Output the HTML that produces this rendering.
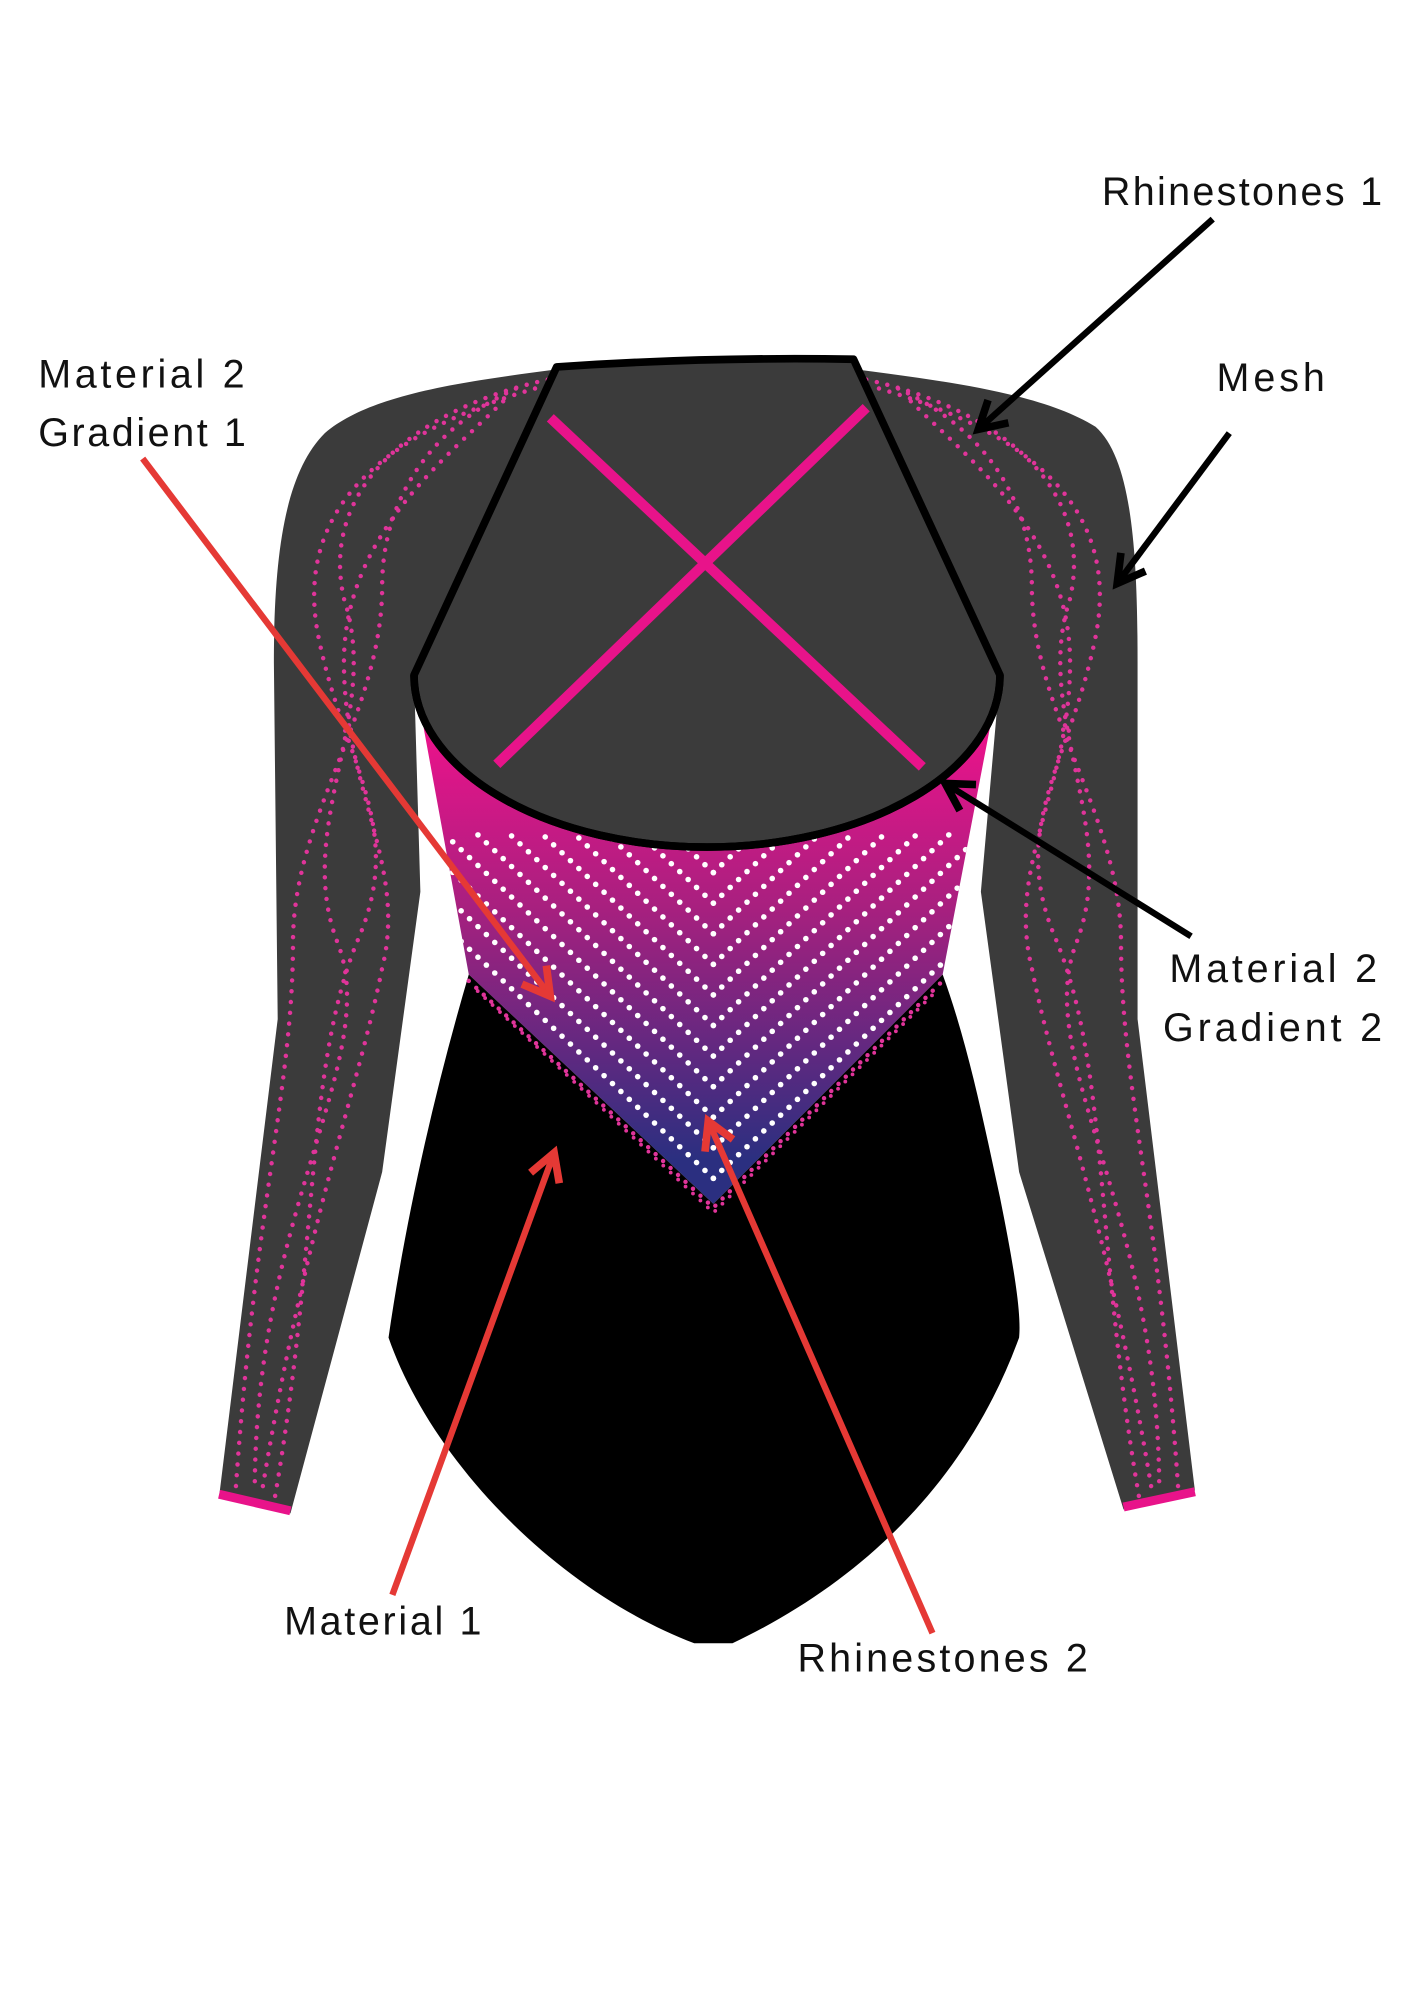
<!DOCTYPE html>
<html><head><meta charset="utf-8"><style>html,body{margin:0;padding:0;background:#fff}svg{display:block}text{font-family:"Liberation Sans",sans-serif;font-size:31px;fill:#111}</style></head>
<body>
<svg id="s" width="1414" height="2000" viewBox="0 0 1110 1570" xmlns="http://www.w3.org/2000/svg">
<defs>
<linearGradient id="gr" gradientUnits="userSpaceOnUse" x1="0" y1="580" x2="0" y2="910">
<stop offset="0" stop-color="#e8138a"/><stop offset="0.4" stop-color="#a8207f"/><stop offset="1" stop-color="#2b2f80"/>
</linearGradient>
<clipPath id="cp"><path d="M325,530 L368,765 L560,945 L740,765 L785,530 A230,135 0 0 1 325,530 Z"/></clipPath>
<marker id="ab" viewBox="0 0 10 10" refX="8" refY="5" markerWidth="6" markerHeight="6" orient="auto"><path d="M1,1 L8,5 L1,9" fill="none" stroke="#000" stroke-width="2"/></marker>
<marker id="ar" viewBox="0 0 10 10" refX="8" refY="5" markerWidth="6" markerHeight="6" orient="auto"><path d="M1,1 L8,5 L1,9" fill="none" stroke="#e53935" stroke-width="2"/></marker>
</defs>
<path d="M437,290 C360,300 290,310 255,340 C225,370 215,430 215,520 L218,800 L172,1175 L228,1188 L300,920 L330,700 L325,530 Z" fill="#3b3b3b"/>
<path d="M672,290 C750,300 820,310 860,335 C888,360 893,430 893,520 L893,800 L938,1170 L882,1185 L800,920 L770,700 L785,530 Z" fill="#3b3b3b"/>
<line x1="172" y1="1173" x2="228" y2="1186" stroke="#e8138a" stroke-width="7"/>
<line x1="882" y1="1183" x2="938" y2="1171" stroke="#e8138a" stroke-width="7"/>
<g fill="none" stroke="#e0349a" stroke-width="3.5" stroke-linecap="round" stroke-dasharray="0 8.5">
<path d="M430,298 C330,320 250,380 270,470 C300,560 230,650 265,740 C300,830 200,950 200,1170"/>
<path d="M420,305 C300,340 230,400 250,500 C270,600 320,650 280,740 C240,840 250,980 215,1180"/>
<path d="M405,305 C330,340 300,400 300,460 C300,560 230,640 230,740 C230,850 200,950 185,1170"/>
<path d="M395,315 C350,360 270,420 270,520 C270,620 320,680 300,760 C280,860 240,960 205,1175"/>
<path d="M680,298 C780,320 860,380 840,470 C810,560 880,650 845,740 C810,830 910,950 910,1170"/>
<path d="M690,305 C810,340 880,400 860,500 C840,600 790,650 830,740 C870,840 860,980 895,1180"/>
<path d="M705,305 C780,340 810,400 810,460 C810,560 880,640 880,740 C880,850 910,950 925,1170"/>
<path d="M715,315 C760,360 840,420 840,520 C840,620 790,680 810,760 C830,860 870,960 905,1175"/>
</g>
<path d="M325,530 L368,765 L560,945 L740,765 L785,530 A230,135 0 0 1 325,530 Z" fill="url(#gr)"/>
<g id="wd" clip-path="url(#cp)" fill="#fff"></g>
<path d="M368,765 L560,945 L740,765 C760,820 772,880 785,940 C795,990 802,1030 800,1050 C760,1160 680,1240 575,1290 L545,1290 C440,1250 340,1150 305,1050 C318,960 340,860 368,765 Z" fill="#000"/>
<path d="M368,770 L560,948 L740,770" fill="none" stroke="#e0349a" stroke-width="3.5" stroke-linecap="round" stroke-dasharray="0 8"/>
<path d="M375,778 L560,952 L735,778" fill="none" stroke="#e0349a" stroke-width="3" stroke-linecap="round" stroke-dasharray="0 8"/>
<path d="M437,288 Q555,280 670,282 L785,530 A230,135 0 0 1 325,530 Z" fill="#3b3b3b" stroke="#000" stroke-width="6" stroke-linejoin="round"/>
<line x1="432" y1="328" x2="724" y2="602" stroke="#e8138a" stroke-width="8"/>
<line x1="680" y1="320" x2="390" y2="600" stroke="#e8138a" stroke-width="8"/>
<path d="M325,530 A230,135 0 0 0 785,530" fill="none" stroke="#000" stroke-width="6"/>
<g stroke-width="5" fill="none">
<line x1="952" y1="172" x2="768" y2="337" stroke="#000" marker-end="url(#ab)"/>
<line x1="965" y1="340" x2="877" y2="458" stroke="#000" marker-end="url(#ab)"/>
<line x1="935" y1="735" x2="742" y2="615" stroke="#000" marker-end="url(#ab)"/>
<line x1="112" y1="360" x2="432" y2="782" stroke="#e53935" marker-end="url(#ar)"/>
<line x1="308" y1="1252" x2="435" y2="905" stroke="#e53935" marker-end="url(#ar)"/>
<line x1="732" y1="1282" x2="556" y2="880" stroke="#e53935" marker-end="url(#ar)"/>
</g>
<text x="865" y="161" textLength="220">Rhinestones 1</text>
<text x="30" y="304" textLength="162">Material 2</text>
<text x="30" y="350" textLength="163">Gradient 1</text>
<text x="955" y="307" textLength="85">Mesh</text>
<text x="918" y="771" textLength="163">Material 2</text>
<text x="913" y="817" textLength="172">Gradient 2</text>
<text x="223" y="1283" textLength="155">Material 1</text>
<text x="626" y="1312" textLength="228">Rhinestones 2</text>
</svg>
<script>
var g=document.getElementById('wd'),h='';
for(var k=0;k<12;k++){var cy=925-k*24;
 for(var s=-1;s<=1;s+=2){for(var i=0;i<40;i++){var x=560+s*i*6.6,y=cy-i*6.2;
  if(y<655)break;h+='<circle cx="'+x.toFixed(1)+'" cy="'+y.toFixed(1)+'" r="2.2"/>';}}}
g.innerHTML=h;
</script>
</body></html>
